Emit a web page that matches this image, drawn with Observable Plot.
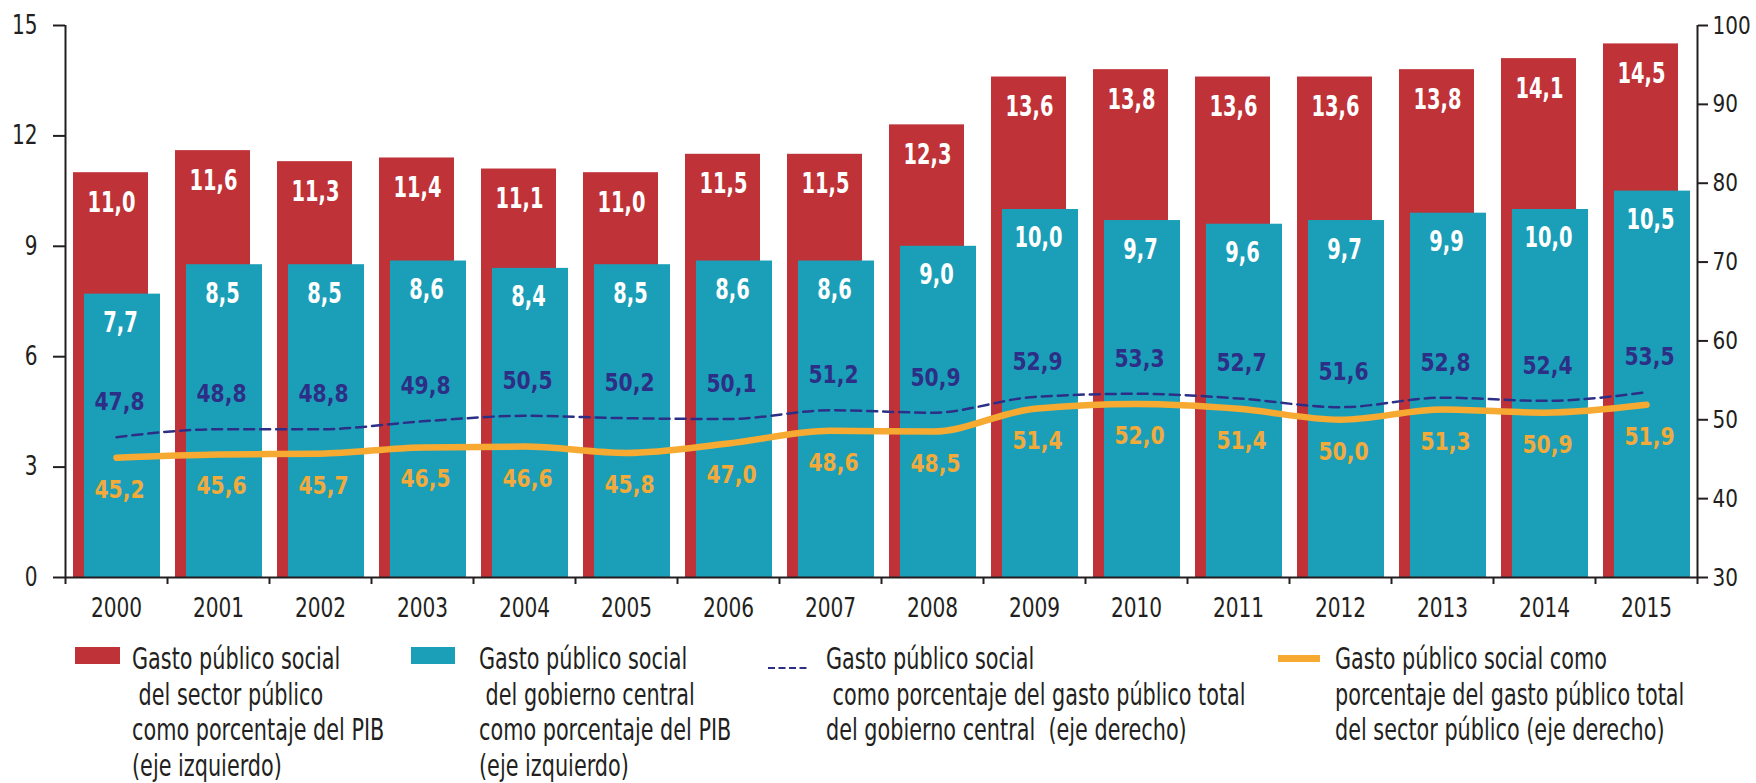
<!DOCTYPE html>
<html><head><meta charset="utf-8">
<script src="https://cdn.jsdelivr.net/npm/d3@7"></script>
<script src="https://cdn.jsdelivr.net/npm/@observablehq/plot@0.6"></script>
<style>
body{margin:0;background:#fff;}
#chart{position:relative;width:1756px;height:783px;font-family:"DejaVu Sans Condensed","Liberation Sans Narrow",sans-serif;color:#231f20;}
#legend{position:relative;width:1756px;height:153px;}
.leg{position:absolute;font-size:30px;line-height:35.5px;white-space:pre;transform:scaleX(0.77);transform-origin:0 0;}
.sw{position:absolute;}
</style></head><body><div id="chart"></div>
<script>
const years = [2000,2001,2002,2003,2004,2005,2006,2007,2008,2009,2010,2011,2012,2013,2014,2015];
const sectorPublicoPIB = [11.0,11.6,11.3,11.4,11.1,11.0,11.5,11.5,12.3,13.6,13.8,13.6,13.6,13.8,14.1,14.5];
const gobiernoCentralPIB = [7.7,8.5,8.5,8.6,8.4,8.5,8.6,8.6,9.0,10.0,9.7,9.6,9.7,9.9,10.0,10.5];
const gobiernoCentralPctGasto = [47.8,48.8,48.8,49.8,50.5,50.2,50.1,51.2,50.9,52.9,53.3,52.7,51.6,52.8,52.4,53.5];
const sectorPublicoPctGasto = [45.2,45.6,45.7,46.5,46.6,45.8,47.0,48.6,48.5,51.4,52.0,51.4,50.0,51.3,50.9,51.9];
const leftTicks = [0,3,6,9,12,15];
const rightTicks = [30,40,50,60,70,80,90,100];
const legendLabels = [
  ["Gasto público social", " del sector público", "como porcentaje del PIB", "(eje izquierdo)"],
  ["Gasto público social", " del gobierno central", "como porcentaje del PIB", "(eje izquierdo)"],
  ["Gasto público social", " como porcentaje del gasto público total", "del gobierno central  (eje derecho)"],
  ["Gasto público social como", "porcentaje del gasto público total", "del sector público (eje derecho)"]
];

const RED = "#bf3238", TEAL = "#1b9fb8", NAVY = "#2d2f86", ORANGE = "#f7aa32", ORANGE_TXT = "#f2aa3a", INK = "#231f20";
const FONT = '"DejaVu Sans Condensed","Liberation Sans Narrow",sans-serif';

const data = years.map((year, i) => ({
  year, sp: sectorPublicoPIB[i], gc: gobiernoCentralPIB[i],
  gcp: gobiernoCentralPctGasto[i], spp: sectorPublicoPctGasto[i]
}));
const fmt = v => v.toFixed(1).replace(".", ",");
const toLeft = v => (v - 30) * 15 / 70;
const fromLeft = v => String(Math.round(v * 70 / 15 + 30));
const x0 = years[0] - 0.5, x1 = years[years.length - 1] + 0.5;
const boundaries = [x0, ...years.map(y => y + 0.5)];

const H = 630;
const white = {fontWeight: "bold", fontSize: 28, fontFamily: FONT, fill: "white"};
const line = {fontWeight: "bold", fontSize: 25, fontFamily: FONT};

const plot = Plot.plot({
  width: 1756, height: H,
  marginLeft: 65, marginRight: 59, marginTop: 25, marginBottom: H - 577,
  x: {type: "linear", domain: [x0, x1]},
  y: {domain: [0, 15]},
  style: {fontFamily: FONT, fontSize: "26px", color: INK, background: "#fff"},
  marks: [
    Plot.rectY(data, {x1: d => d.year - 0.5, x2: d => d.year + 0.5, y1: 0, y2: "sp", fill: RED, insetLeft: 8, insetRight: 19}),
    Plot.rectY(data, {x1: d => d.year - 0.5, x2: d => d.year + 0.5, y1: 0, y2: "gc", fill: TEAL, insetLeft: 19, insetRight: 7}),
    Plot.line(data, {x: "year", y: d => toLeft(d.gcp), stroke: NAVY, strokeWidth: 2.5, strokeDasharray: "10,6", curve: "monotone-x"}),
    Plot.line(data, {x: "year", y: d => toLeft(d.spp), stroke: ORANGE, strokeWidth: 6.5, curve: "monotone-x"}),
    Plot.text(data, {x: "year", y: "sp", text: d => fmt(d.sp), dy: 30, dx: -5, ...white}),
    Plot.text(data, {x: "year", y: "gc", text: d => fmt(d.gc), dy: 29, dx: 4, ...white}),
    Plot.text(data, {x: "year", y: d => toLeft(d.gcp), text: d => fmt(d.gcp), dy: -35, dx: 3, fill: NAVY, ...line}),
    Plot.text(data, {x: "year", y: d => toLeft(d.spp), text: d => fmt(d.spp), dy: 32, dx: 3, fill: ORANGE_TXT, ...line}),
    Plot.ruleX([x0, x1], {y1: 0, y2: 15, stroke: INK, strokeWidth: 2}),
    Plot.ruleY([0], {x1: x0, x2: x1, stroke: INK, strokeWidth: 2}),
    Plot.axisY({ticks: leftTicks, tickSize: 12, tickPadding: 16, strokeWidth: 2, label: null, tickFormat: d => String(d)}),
    Plot.axisY({anchor: "right", ticks: rightTicks.map(toLeft), tickFormat: fromLeft, tickSize: 10, tickPadding: 5, fontSize: 25, strokeWidth: 2, label: null}),
    Plot.axisX({ticks: boundaries, tickFormat: () => "", tickSize: 7, strokeWidth: 2, label: null}),
    Plot.axisX({ticks: years, tickFormat: d => String(d), tickSize: 0, tickPadding: 21, label: null})
  ]
});
const chart = document.getElementById("chart");
chart.appendChild(plot);

// condense SVG texts horizontally to mimic the narrow typeface of the original
plot.querySelectorAll("text").forEach(t => {
  const len = t.getComputedTextLength();
  if (!len) return;
  const cs = getComputedStyle(t);
  const bold = cs.fontWeight === "700" || cs.fontWeight === "bold";
  const size = parseFloat(cs.fontSize);
  const k = bold ? (size >= 27 ? 0.77 : 0.9) : (size < 26 ? 0.89 : 0.86);
  t.setAttribute("textLength", (len * k).toFixed(1));
  t.setAttribute("lengthAdjust", "spacingAndGlyphs");
});

// legend below the SVG
const legend = document.createElement("div");
legend.id = "legend";
const top0 = 11;
const swatches = [
  {left: 75, html: `<div style="width:45px;height:17px;background:${RED}"></div>`, top: 17, text: 132},
  {left: 411, html: `<div style="width:44px;height:17px;background:${TEAL}"></div>`, top: 17, text: 479},
  {left: 768, html: `<svg width="41" height="4"><line x1="0" y1="2" x2="41" y2="2" stroke="${NAVY}" stroke-width="2" stroke-dasharray="7,3.5"/></svg>`, top: 25, text: 826},
  {left: 1278, html: `<div style="width:42px;height:7px;background:${ORANGE}"></div>`, top: 25, text: 1335}
];
swatches.forEach((s, i) => {
  const sw = document.createElement("div");
  sw.className = "sw";
  sw.style.left = s.left + "px"; sw.style.top = s.top + "px";
  sw.innerHTML = s.html;
  legend.appendChild(sw);
  const t = document.createElement("div");
  t.className = "leg";
  t.style.left = s.text + "px"; t.style.top = top0 + "px";
  t.textContent = legendLabels[i].join("\n");
  legend.appendChild(t);
});
chart.appendChild(legend);
</script></body></html>
